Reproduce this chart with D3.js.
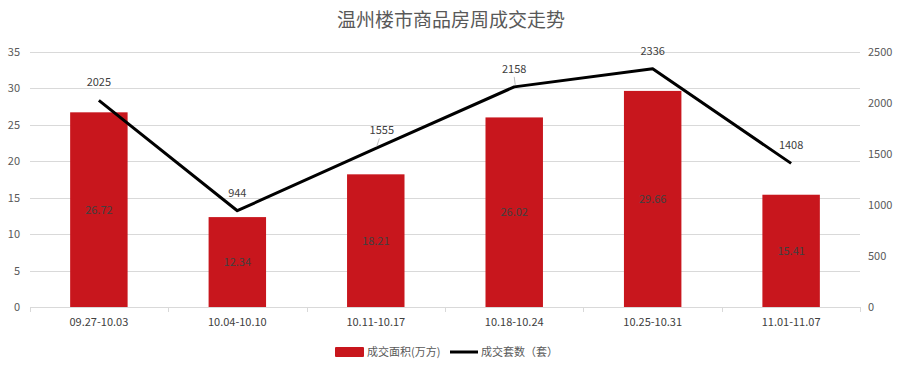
<!DOCTYPE html>
<html><head><meta charset="utf-8">
<script src="https://cdn.jsdelivr.net/npm/d3@7/dist/d3.min.js"></script>
<style>body{margin:0;background:#fff;}svg{display:block;font-family:"Microsoft YaHei","Noto Sans CJK SC",sans-serif;}</style>
</head><body><svg id="c" width="903" height="372"></svg>
<script>
const categories = ["09.27-10.03","10.04-10.10","10.11-10.17","10.18-10.24","10.25-10.31","11.01-11.07"];
const areaValues = [26.72,12.34,18.21,26.02,29.66,15.41];
const countValues = [2025,944,1555,2158,2336,1408];
const leftTicks = [0,5,10,15,20,25,30,35];
const rightTicks = [0,500,1000,1500,2000,2500];

const svg = d3.select("#c");
const L = 30, R = 860, T = 52, B = 307;
const x = d3.scaleBand().domain(categories).range([L,R]).paddingInner(0.585).paddingOuter(0.29);
const yL = d3.scaleLinear().domain([0,35]).range([B,T]);
const yR = d3.scaleLinear().domain([0,2500]).range([B,T]);
const txt = "#595959";
const cx = d => x(d)+x.bandwidth()/2;

svg.append("text").attr("x",451).attr("y",27).attr("text-anchor","middle")
  .attr("font-size",19).attr("fill",txt).text("温州楼市商品房周成交走势");

svg.append("g").selectAll("line").data(leftTicks).join("line")
  .attr("x1",L).attr("x2",R).attr("y1",d=>Math.round(yL(d))+0.5).attr("y2",d=>Math.round(yL(d))+0.5)
  .attr("stroke","#d9d9d9").attr("stroke-width",1);

svg.append("g").selectAll("text").data(leftTicks).join("text")
  .attr("x",20).attr("y",d=>yL(d)+4).attr("text-anchor","end").attr("font-size",11).attr("fill",txt).text(d=>d);
svg.append("g").selectAll("text").data(rightTicks).join("text")
  .attr("x",868).attr("y",d=>yR(d)+4).attr("text-anchor","start").attr("font-size",11).attr("fill",txt).text(d=>d);

const bounds = d3.range(categories.length+1).map(i=>L+i*(R-L)/categories.length);
svg.append("g").selectAll("line").data(bounds).join("line")
  .attr("x1",d=>Math.round(d)+0.5).attr("x2",d=>Math.round(d)+0.5).attr("y1",B).attr("y2",B+5)
  .attr("stroke","#d9d9d9");

svg.append("g").selectAll("rect").data(categories).join("rect")
  .attr("x",d=>x(d)).attr("width",x.bandwidth())
  .attr("y",(d,i)=>yL(areaValues[i])).attr("height",(d,i)=>B-yL(areaValues[i]))
  .attr("fill","#C8161D");
svg.append("g").selectAll("text").data(categories).join("text")
  .attr("x",cx).attr("y",(d,i)=>(yL(areaValues[i])+B)/2+4)
  .attr("text-anchor","middle").attr("font-size",11).attr("fill","#404040")
  .text((d,i)=>areaValues[i].toFixed(2));

svg.append("g").selectAll("text").data(categories).join("text")
  .attr("x",cx).attr("y",326).attr("text-anchor","middle")
  .attr("font-size",11).attr("fill","#404040").text(d=>d);

const line = d3.line().x((d,i)=>cx(categories[i])).y(d=>yR(d));
svg.append("path").datum(countValues).attr("d",line).attr("fill","none")
  .attr("stroke","#000").attr("stroke-width",3).attr("stroke-linejoin","round");

// label offsets (style only)
const labelDx = [0,0,6,0,0,0];
const leader = [false,false,true,true,false,false];
svg.append("g").selectAll("line").data(countValues).join("line")
  .filter((d,i)=>leader[i])
  .attr("x1",function(d){const i=countValues.indexOf(d);return cx(categories[i])+labelDx[i]*0.6;})
  .attr("y1",d=>yR(d)-10)
  .attr("x2",function(d){const i=countValues.indexOf(d);return cx(categories[i])+1;})
  .attr("y2",d=>yR(d)-2)
  .attr("stroke","#bfbfbf").attr("stroke-width",1);
svg.append("g").selectAll("text").data(countValues).join("text")
  .attr("x",(d,i)=>cx(categories[i])+labelDx[i]).attr("y",d=>yR(d)-14)
  .attr("text-anchor","middle").attr("font-size",11).attr("fill","#404040").text(d=>d);

const lg = svg.append("g");
lg.append("rect").attr("x",335).attr("y",347).attr("width",29).attr("height",10).attr("fill","#C8161D").attr("rx",1);
lg.append("text").attr("x",367).attr("y",356).attr("font-size",11).attr("fill",txt).text("成交面积(万方)");
lg.append("line").attr("x1",450).attr("x2",478).attr("y1",352).attr("y2",352).attr("stroke","#000").attr("stroke-width",3);
lg.append("text").attr("x",481).attr("y",356).attr("font-size",11).attr("fill",txt).text("成交套数（套）");
</script></body></html>
